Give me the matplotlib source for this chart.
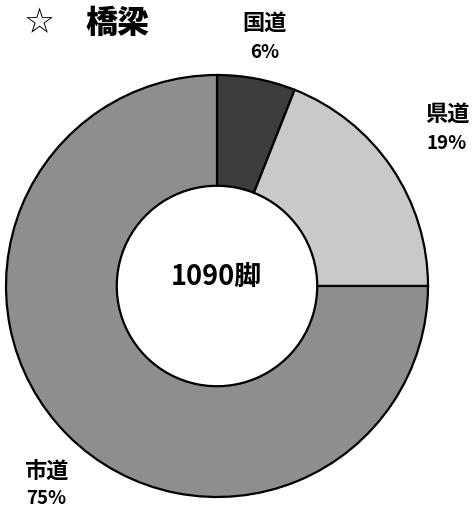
import matplotlib
matplotlib.use("Agg")
import matplotlib.pyplot as plt

plt.rcParams['font.family'] = ['Noto Sans CJK JP', 'DejaVu Sans']

# data
categories = ['国道', '県道', '市道']
shares = [6, 19, 75]
total_label = '1090脚'
title = '橋梁'

colors = ['#3c3c3c', '#c9c9c9', '#8e8e8e']

W, H = 473, 511
fig = plt.figure(figsize=(W / 100, H / 100), dpi=100)
ax = fig.add_axes([0, 0, 1, 1])
ax.set_xlim(0, W)
ax.set_ylim(0, H)
ax.set_aspect('equal')
ax.axis('off')

cx, cy = 217, H - 286
r = 211
ring = 0.525

ax.pie(shares, colors=colors, startangle=90, counterclock=False,
       center=(cx, cy), radius=r,
       wedgeprops=dict(width=r * ring, edgecolor='black', linewidth=1.6))
ax.set_xlim(0, W)
ax.set_ylim(0, H)

# label positions (pixels from top-left): x, name y, percent y
label_pos = [(265, 23, 52), (447, 114, 143), (46, 472, 498)]
for name, val, (lx, ly1, ly2) in zip(categories, shares, label_pos):
    ax.text(lx, H - ly1, name, ha='center', va='center', fontsize=16, fontweight='bold')
    ax.text(lx, H - ly2, f'{val}%', ha='center', va='center', fontsize=13.5, fontweight='bold')

ax.text(216, H - 277, total_label, ha='center', va='center', fontsize=19.5, fontweight='bold')

ax.text(39, H - 23, '☆', ha='center', va='center', fontsize=25, family=['DejaVu Sans'])
ax.text(117, H - 23, title, ha='center', va='center', fontsize=23, fontweight='black', style='italic')

fig.savefig('out.png', dpi=100)
